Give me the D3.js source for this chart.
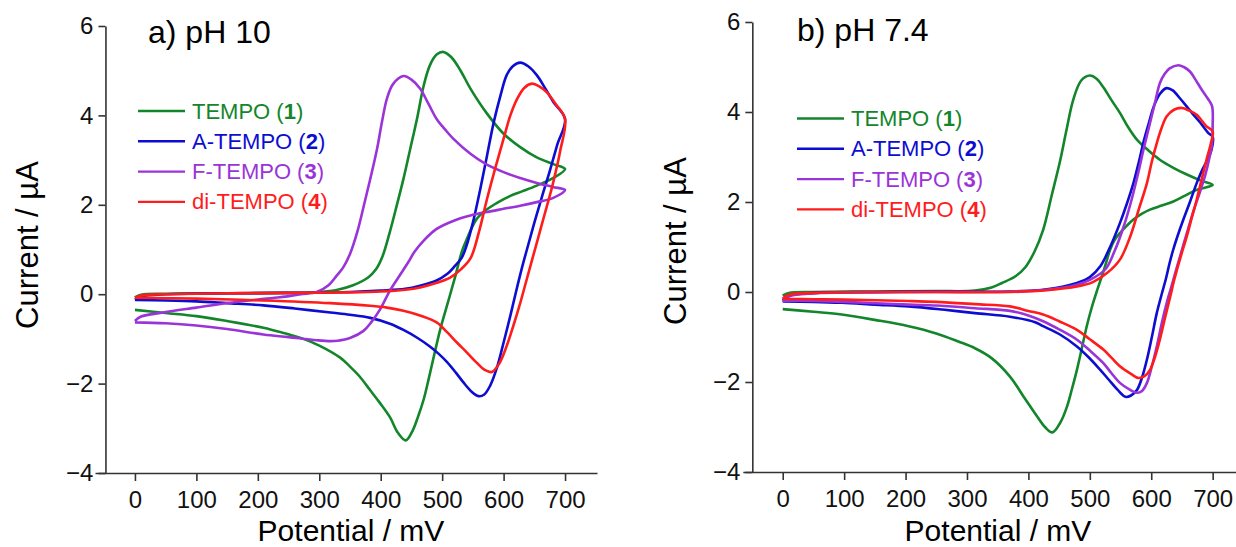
<!DOCTYPE html>
<html>
<head>
<meta charset="utf-8">
<script src="https://cdn.jsdelivr.net/npm/d3@7"></script>
<style>
  body { margin: 0; background: #fff; }
  svg { display: block; font-family: "Liberation Sans", Arial, sans-serif; }
</style>
</head>
<body>
<script>
const w = 1236;
const h = 547;

const names = ['TEMPO', 'A-TEMPO', 'F-TEMPO', 'di-TEMPO'];
const numbers = ['1', '2', '3', '4'];
const colors = ['#13862b', '#0d0dd2', '#9a34d8', '#ff1c1c'];
const xTicks = [0, 100, 200, 300, 400, 500, 600, 700];
const yTicks = [-4, -2, 0, 2, 4, 6];

// panel a) pH 10 : [potential mV, current uA] in scan order (0 -> 700 -> 0)
const tempoA = [[0,-0.07],[10,-0.01],[50,0.01],[150,0.02],[250,0.03],[300,0.05],[330,0.1],[355,0.2],[380,0.38],[392,0.55],[403,0.85],[414,1.35],[426,1.98],[437,2.58],[448,3.25],[459,3.92],[470,4.67],[480,5.12],[491,5.36],[502,5.42],[515,5.3],[530,5.0],[546,4.6],[573,4.04],[600,3.59],[627,3.29],[654,3.06],[681,2.91],[700,2.8],
  [681,2.6],[654,2.43],[630,2.3],[611,2.2],[590,2.05],[573,1.9],[556,1.68],[540,1.23],[532,0.95],[521,0.38],[509,-0.2],[497,-0.78],[488,-1.3],[478,-1.9],[470,-2.35],[461,-2.73],[452,-3.05],[441,-3.27],[428,-3.1],[415,-2.75],[398,-2.42],[383,-2.15],[365,-1.83],[350,-1.62],[334,-1.42],[300,-1.15],[274,-1.0],[240,-0.86],[209,-0.75],[150,-0.6],[100,-0.49],[50,-0.42],[0,-0.35]];
const atempoA = [[0,-0.12],[10,-0.05],[50,0.0],[150,0.02],[250,0.03],[350,0.05],[400,0.08],[440,0.12],[464,0.19],[490,0.3],[508,0.45],[520,0.62],[532,0.82],[540,1.1],[550,1.6],[562,2.35],[573,3.1],[584,3.85],[595,4.45],[605,4.9],[615,5.1],[627,5.18],[640,5.1],[654,4.9],[668,4.6],[681,4.3],[700,3.92],
  [687,3.33],[675,2.75],[665,2.3],[656,1.88],[648,1.5],[640,1.1],[631,0.65],[621,0.1],[611,-0.48],[600,-1.08],[589,-1.65],[578,-2.05],[568,-2.25],[559,-2.28],[548,-2.18],[535,-1.98],[522,-1.75],[508,-1.52],[494,-1.33],[480,-1.17],[460,-0.98],[437,-0.8],[415,-0.66],[383,-0.53],[350,-0.46],[318,-0.41],[260,-0.32],[209,-0.25],[150,-0.2],[100,-0.16],[50,-0.14],[0,-0.13]];
const ftempoA = [[0,-0.6],[10,-0.5],[46,-0.41],[100,-0.3],[155,-0.19],[200,-0.12],[236,-0.07],[270,0.0],[296,0.05],[315,0.2],[328,0.41],[339,0.6],[350,0.9],[362,1.4],[372,1.95],[383,2.58],[394,3.25],[402,3.85],[410,4.37],[420,4.7],[437,4.88],[450,4.8],[464,4.6],[478,4.25],[491,3.92],[505,3.68],[518,3.48],[546,3.14],[570,2.92],[600,2.73],[627,2.6],[654,2.49],[680,2.4],[700,2.33],
  [680,2.15],[654,2.06],[627,1.98],[600,1.91],[573,1.84],[546,1.76],[520,1.65],[491,1.46],[470,1.2],[455,0.95],[445,0.72],[430,0.4],[415,0.08],[399,-0.34],[385,-0.62],[372,-0.82],[350,-0.98],[330,-1.04],[318,-1.05],[296,-1.03],[250,-0.96],[209,-0.9],[150,-0.78],[100,-0.7],[50,-0.65],[0,-0.63]];
const ditempoA = [[0,-0.08],[10,-0.03],[50,0.0],[150,0.02],[250,0.03],[350,0.04],[400,0.06],[440,0.1],[464,0.15],[490,0.25],[513,0.37],[530,0.55],[546,0.8],[560,1.4],[573,2.13],[587,2.85],[600,3.48],[611,4.0],[622,4.37],[634,4.62],[646,4.71],[658,4.65],[670,4.52],[685,4.25],[700,3.92],
  [692,3.2],[685,2.75],[678,2.35],[670,1.95],[662,1.55],[654,1.15],[645,0.7],[636,0.25],[627,-0.2],[616,-0.7],[605,-1.16],[593,-1.55],[581,-1.74],[570,-1.7],[556,-1.53],[540,-1.3],[524,-1.08],[508,-0.85],[491,-0.63],[465,-0.48],[437,-0.37],[410,-0.3],[383,-0.26],[318,-0.2],[209,-0.14],[100,-0.1],[0,-0.08]];

// panel b) pH 7.4
const tempoB = [[0,-0.08],[10,-0.02],[50,0.0],[150,0.01],[250,0.02],[313,0.03],[340,0.1],[357,0.2],[379,0.35],[395,0.55],[410,0.9],[424,1.38],[438,2.15],[452,2.94],[462,3.6],[473,4.27],[486,4.7],[500,4.81],[511,4.74],[522,4.55],[535,4.27],[549,3.98],[563,3.65],[577,3.38],[595,3.15],[614,2.94],[636,2.76],[658,2.61],[680,2.48],[700,2.38],
  [674,2.27],[655,2.14],[636,2.01],[617,1.92],[598,1.83],[585,1.74],[571,1.61],[560,1.47],[549,1.31],[540,1.15],[533,0.94],[528,0.72],[522,0.45],[511,0.0],[503,-0.35],[495,-0.76],[487,-1.25],[479,-1.73],[471,-2.15],[463,-2.54],[452,-2.9],[439,-3.12],[427,-3.0],[414,-2.76],[392,-2.32],[370,-1.88],[340,-1.47],[313,-1.25],[286,-1.1],[250,-0.92],[205,-0.76],[150,-0.62],[96,-0.5],[50,-0.44],[0,-0.38]];
const atempoB = [[0,-0.18],[10,-0.08],[50,-0.02],[150,0.0],[250,0.01],[370,0.01],[430,0.06],[479,0.2],[500,0.33],[517,0.57],[533,1.0],[549,1.53],[560,1.95],[571,2.42],[580,2.9],[587,3.31],[596,3.75],[604,4.12],[614,4.4],[625,4.53],[635,4.48],[647,4.3],[658,4.12],[670,3.92],[680,3.76],[693,3.53],[700,3.45],
  [698,3.15],[690,2.9],[682,2.68],[674,2.42],[663,2.0],[652,1.6],[643,1.25],[636,0.95],[630,0.65],[624,0.3],[617,-0.05],[609,-0.47],[601,-1.0],[593,-1.5],[585,-1.9],[577,-2.17],[567,-2.3],[558,-2.33],[545,-2.17],[531,-1.95],[517,-1.73],[498,-1.45],[479,-1.21],[452,-0.95],[424,-0.76],[411,-0.67],[370,-0.55],[313,-0.47],[260,-0.39],[205,-0.32],[150,-0.28],[96,-0.24],[50,-0.22],[0,-0.21]];
const ftempoB = [[0,-0.22],[10,-0.1],[50,-0.03],[150,-0.01],[250,0.0],[370,0.01],[430,0.05],[479,0.16],[500,0.27],[525,0.5],[540,0.9],[555,1.45],[567,2.0],[578,2.6],[588,3.2],[597,3.7],[606,4.2],[614,4.64],[622,4.85],[630,4.97],[644,5.04],[653,5.0],[663,4.9],[672,4.72],[682,4.5],[692,4.3],[699,4.13],
  [700,3.7],[699,3.3],[695,3.0],[688,2.6],[680,2.25],[670,1.85],[661,1.45],[653,1.08],[646,0.75],[639,0.42],[632,0.08],[625,-0.25],[617,-0.7],[609,-1.21],[601,-1.65],[593,-2.02],[585,-2.2],[577,-2.24],[565,-2.17],[549,-2.02],[535,-1.8],[522,-1.58],[500,-1.3],[479,-1.06],[450,-0.83],[424,-0.65],[400,-0.52],[370,-0.42],[313,-0.36],[250,-0.3],[205,-0.28],[100,-0.22],[50,-0.2],[0,-0.19]];
const ditempoB = [[0,-0.15],[10,-0.06],[50,-0.02],[150,0.0],[250,0.0],[370,0.0],[430,0.04],[479,0.12],[505,0.22],[528,0.42],[549,0.72],[566,1.24],[580,1.85],[593,2.42],[601,2.9],[609,3.31],[617,3.65],[625,3.9],[637,4.05],[650,4.09],[662,4.03],[674,3.94],[690,3.68],[700,3.57],
  [697,3.3],[690,2.94],[682,2.5],[674,2.05],[666,1.65],[658,1.24],[650,0.88],[642,0.5],[637,0.25],[631,-0.1],[622,-0.6],[614,-1.06],[606,-1.45],[598,-1.73],[589,-1.87],[579,-1.91],[567,-1.82],[549,-1.65],[536,-1.47],[522,-1.28],[500,-1.05],[479,-0.84],[450,-0.65],[424,-0.5],[400,-0.42],[370,-0.32],[313,-0.27],[250,-0.22],[205,-0.2],[100,-0.17],[50,-0.16],[0,-0.15]];

const panels = [
  { title: 'a) pH 10', curves: [tempoA, atempoA, ftempoA, ditempoA],
    xDomain: [-65, 752], xRange: [95, 597], yRange: [473, 26], yAxisAt: -48,
    titleX: 148, titleY: 43, legX: 138, legY: 111, ylabX: 38, ylabY: 245, xlabX: 351 },
  { title: 'b) pH 7.4', curves: [tempoB, atempoB, ftempoB, ditempoB],
    xDomain: [-65, 738], xRange: [742.8, 1236], yRange: [472, 22], yAxisAt: -49.5,
    titleX: 797, titleY: 41, legX: 797, legY: 118.5, ylabX: 686, ylabY: 241, xlabX: 998 }
];

const svg = d3.select('body').append('svg')
  .attr('width', w)
  .attr('height', h);

panels.forEach((p) => {
  const xScale = d3.scaleLinear().domain(p.xDomain).range(p.xRange);
  const yScale = d3.scaleLinear().domain([-4, 6]).range(p.yRange);
  const g = svg.append('g');

  // x axis
  const xAxis = d3.axisBottom(xScale).tickValues(xTicks).tickSize(8).tickSizeOuter(0).tickPadding(10);
  const gx = g.append('g')
    .attr('transform', `translate(0,${p.yRange[0]})`)
    .call(xAxis);

  // y axis
  const yAxis = d3.axisLeft(yScale).tickValues(yTicks).tickSize(7).tickSizeOuter(0).tickPadding(5);
  const gy = g.append('g')
    .attr('transform', `translate(${xScale(p.yAxisAt)},0)`)
    .call(yAxis);

  [gx, gy].forEach((a) => {
    a.select('.domain').attr('stroke', '#333').attr('stroke-width', 1.6);
    a.selectAll('.tick line').attr('stroke', '#333').attr('stroke-width', 1.6);
    a.selectAll('.tick text').attr('fill', '#111').style('font-size', '24px');
  });

  // curves
  const line = d3.line()
    .x((d) => xScale(d[0]))
    .y((d) => yScale(d[1]))
    .curve(d3.curveCatmullRom.alpha(0.5));

  g.selectAll('path.cv')
    .data(p.curves)
    .enter()
    .append('path')
    .attr('class', 'cv')
    .attr('d', line)
    .attr('fill', 'none')
    .attr('stroke', (d, i) => colors[i])
    .attr('stroke-width', 2.6)
    .attr('stroke-linejoin', 'round');

  // panel title
  g.append('text')
    .attr('x', p.titleX)
    .attr('y', p.titleY)
    .style('font-size', '32px')
    .attr('fill', '#000')
    .text(p.title);

  // legend
  names.forEach((n, i) => {
    const y = p.legY + i * 30.3;
    g.append('line')
      .attr('x1', p.legX).attr('x2', p.legX + 47)
      .attr('y1', y).attr('y2', y)
      .attr('stroke', colors[i])
      .attr('stroke-width', 2.4);
    const t = g.append('text')
      .attr('x', p.legX + 54)
      .attr('y', y + 7.5)
      .attr('fill', colors[i])
      .style('font-size', '22px');
    t.append('tspan').text(n + ' (');
    t.append('tspan').attr('font-weight', 'bold').text(numbers[i]);
    t.append('tspan').text(')');
  });

  // axis titles
  g.append('text')
    .attr('x', p.xlabX)
    .attr('y', 540.5)
    .style('text-anchor', 'middle')
    .style('font-size', '30px')
    .text('Potential / mV');

  g.append('text')
    .attr('transform', `translate(${p.ylabX},${p.ylabY}) rotate(-90)`)
    .style('text-anchor', 'middle')
    .style('font-size', '31px')
    .text('Current / µA');
});
</script>
</body>
</html>
